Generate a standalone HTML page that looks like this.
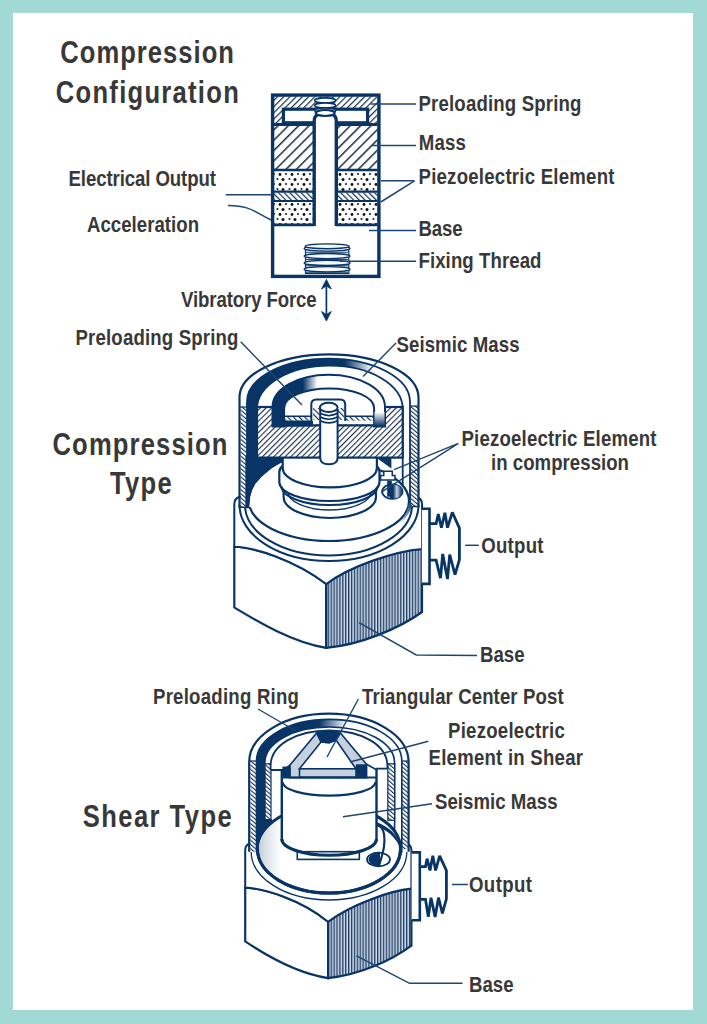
<!DOCTYPE html><html><head><meta charset="utf-8"><style>html,body{margin:0;padding:0;background:#fff}svg{display:block}</style></head><body>
<svg width="707" height="1024" viewBox="0 0 707 1024">
<defs>
<pattern id="h1" width="7.3" height="7.3" patternUnits="userSpaceOnUse" patternTransform="rotate(45)"><rect width="7.3" height="7.3" fill="#fff"/><rect x="0" y="0" width="1.5" height="7.3" fill="#1a2f4a"/></pattern>
<pattern id="h2" width="4.4" height="4.4" patternUnits="userSpaceOnUse" patternTransform="rotate(45)"><rect width="4.4" height="4.4" fill="#fff"/><rect x="0" y="0" width="1.2" height="4.4" fill="#1a2f4a"/></pattern>
<pattern id="h3" width="4" height="4" patternUnits="userSpaceOnUse" patternTransform="rotate(-45)"><rect width="4" height="4" fill="#fff"/><rect x="0" y="0" width="1.2" height="4" fill="#1a2f4a"/></pattern>
<pattern id="h4" width="4" height="4" patternUnits="userSpaceOnUse" patternTransform="rotate(45)"><rect width="4" height="4" fill="#fff"/><rect x="0" y="0" width="1.1" height="4" fill="#1a2f4a"/></pattern>
<pattern id="h5" width="3.2" height="3.2" patternUnits="userSpaceOnUse" patternTransform="rotate(-50)"><rect width="3.2" height="3.2" fill="#fff"/><rect x="0" y="0" width="1.1" height="3.2" fill="#1a2f4a"/></pattern>
<pattern id="dots" width="12" height="10" patternUnits="userSpaceOnUse" x="1" y="172"><rect width="12" height="10" fill="#fff"/><circle cx="3" cy="2.5" r="1.4" fill="#111"/><circle cx="9" cy="2" r="1.1" fill="#222"/><circle cx="6" cy="7.5" r="1.5" fill="#111"/><circle cx="0.5" cy="7" r="1" fill="#222"/><circle cx="12.5" cy="7" r="1" fill="#222"/></pattern>
<pattern id="vl" width="2.9" height="10" patternUnits="userSpaceOnUse"><rect width="2.9" height="10" fill="#d3dde9"/><rect x="0" width="1.35" height="10" fill="#1d3d66"/></pattern>
<linearGradient id="bandL" x1="0" y1="0" x2="1" y2="0"><stop offset="0" stop-color="#083466"/><stop offset="0.6" stop-color="#083466"/><stop offset="0.77" stop-color="#fff"/><stop offset="1" stop-color="#fff"/></linearGradient>
<linearGradient id="sprL" x1="0" y1="0" x2="1" y2="0"><stop offset="0" stop-color="#083466"/><stop offset="0.27" stop-color="#083466"/><stop offset="0.4" stop-color="#fff"/><stop offset="1" stop-color="#fff"/></linearGradient>
<linearGradient id="bandS" x1="0" y1="0" x2="1" y2="0"><stop offset="0" stop-color="#083466"/><stop offset="0.43" stop-color="#083466"/><stop offset="0.62" stop-color="#fff"/><stop offset="1" stop-color="#fff"/></linearGradient>
<pattern id="speck" width="6" height="6" patternUnits="userSpaceOnUse"><rect width="6" height="6" fill="#dfe4ea"/><circle cx="1" cy="1" r="0.7" fill="#8a9ab0"/><circle cx="4" cy="3" r="0.6" fill="#6d7f98"/><circle cx="2" cy="5" r="0.5" fill="#9aa8ba"/></pattern>
<linearGradient id="speckG" x1="0" y1="0" x2="1" y2="0"><stop offset="0" stop-color="#b9c3cf"/><stop offset="0.35" stop-color="#dfe4ea"/><stop offset="0.75" stop-color="#fff"/></linearGradient>
<linearGradient id="legR" x1="0" y1="0" x2="0" y2="1"><stop offset="0" stop-color="#fff"/><stop offset="1" stop-color="#083466"/></linearGradient>
<linearGradient id="holeG" x1="0" y1="0" x2="1" y2="0"><stop offset="0" stop-color="#083466"/><stop offset="0.25" stop-color="#083466"/><stop offset="0.55" stop-color="#c9d4e2"/><stop offset="0.8" stop-color="#4a6a92"/><stop offset="1" stop-color="#083466"/></linearGradient>
<linearGradient id="crR" x1="1" y1="0" x2="0" y2="1"><stop offset="0" stop-color="#083466"/><stop offset="1" stop-color="#fff"/></linearGradient>
</defs>
<rect width="707" height="1024" fill="#a3d9d4"/>
<rect x="13" y="13" width="680" height="997" fill="#fff"/>
<rect x="274" y="96.5" width="103.5" height="27" fill="url(#h2)"/>
<rect x="283.4" y="109.2" width="84.2" height="13.6" fill="#fff" stroke="#083466" stroke-width="3.2"/>
<rect x="274" y="125" width="39" height="44" fill="url(#h1)"/>
<rect x="337.5" y="125" width="40" height="44" fill="url(#h1)"/>
<line x1="274" y1="124.5" x2="377.5" y2="124.5" stroke="#083466" stroke-width="3"/>
<rect x="274" y="171" width="39" height="20" fill="url(#dots)"/>
<rect x="274" y="192.5" width="39" height="8" fill="url(#h3)"/>
<rect x="274" y="201.5" width="39" height="22.5" fill="url(#dots)"/>
<rect x="337.5" y="171" width="40" height="20" fill="url(#dots)"/>
<rect x="337.5" y="192.5" width="40" height="8" fill="url(#h3)"/>
<rect x="337.5" y="201.5" width="40" height="22.5" fill="url(#dots)"/>
<line x1="274" y1="170" x2="314" y2="170" stroke="#083466" stroke-width="2.6"/>
<line x1="336" y1="170" x2="377.5" y2="170" stroke="#083466" stroke-width="2.6"/>
<line x1="274" y1="191.7" x2="314" y2="191.7" stroke="#083466" stroke-width="2.2"/>
<line x1="336" y1="191.7" x2="377.5" y2="191.7" stroke="#083466" stroke-width="2.2"/>
<line x1="274" y1="201" x2="314" y2="201" stroke="#083466" stroke-width="2.2"/>
<line x1="336" y1="201" x2="377.5" y2="201" stroke="#083466" stroke-width="2.2"/>
<line x1="274" y1="224.9" x2="314" y2="224.9" stroke="#083466" stroke-width="2.8"/>
<line x1="336" y1="224.9" x2="377.5" y2="224.9" stroke="#083466" stroke-width="2.8"/>
<rect x="314.2" y="112" width="22.1" height="114" fill="#fff"/>
<path d="M314.2,226 L314.2,121 Q314.2,116 318,114.5 M336.3,226 L336.3,121 Q336.3,116 332.5,114.5" fill="none" stroke="#083466" stroke-width="3.4"/>
<ellipse cx="325.2" cy="100.5" rx="10.5" ry="2.6" fill="#fff" stroke="#083466" stroke-width="1.6"/>
<ellipse cx="325.2" cy="105.5" rx="10.5" ry="2.6" fill="#fff" stroke="#083466" stroke-width="1.6"/>
<ellipse cx="325.2" cy="110.5" rx="10.5" ry="2.6" fill="#fff" stroke="#083466" stroke-width="1.6"/>
<ellipse cx="325.2" cy="113" rx="9.5" ry="3" fill="#fff" stroke="#083466" stroke-width="2.2"/>
<rect x="272.6" y="95.1" width="106.3" height="181.3" fill="none" stroke="#083466" stroke-width="3.4"/>
<path d="M305.5,247 L305.5,273.5 L348.8,273.5 L348.8,247" fill="#f6f9fc" stroke="#083466" stroke-width="1.2"/>
<ellipse cx="327.1" cy="269.3" rx="23" ry="2.6" fill="#f6f9fc" stroke="#083466" stroke-width="1.3"/>
<ellipse cx="327.1" cy="262.9" rx="23" ry="2.6" fill="#f6f9fc" stroke="#083466" stroke-width="1.3"/>
<ellipse cx="327.1" cy="256.1" rx="23" ry="2.6" fill="#f6f9fc" stroke="#083466" stroke-width="1.3"/>
<ellipse cx="327.1" cy="248.5" rx="23" ry="2.6" fill="#f6f9fc" stroke="#083466" stroke-width="1.3"/>
<line x1="306" y1="252.3" x2="348.2" y2="252.3" stroke="#083466" stroke-width="0.9"/>
<line x1="306" y1="259.5" x2="348.2" y2="259.5" stroke="#083466" stroke-width="0.9"/>
<line x1="306" y1="265.9" x2="348.2" y2="265.9" stroke="#083466" stroke-width="0.9"/>
<line x1="306" y1="272.3" x2="348.2" y2="272.3" stroke="#083466" stroke-width="0.9"/>
<ellipse cx="327.1" cy="246.3" rx="21.9" ry="2.4" fill="#f6f9fc" stroke="#083466" stroke-width="1.4"/>
<line x1="370.7" y1="104" x2="416" y2="104" stroke="#1f4670" stroke-width="1.5"/>
<line x1="371.7" y1="145.5" x2="416" y2="145.5" stroke="#1f4670" stroke-width="1.5"/>
<line x1="380.8" y1="180.8" x2="414.5" y2="180.8" stroke="#1f4670" stroke-width="1.5"/>
<line x1="414.5" y1="180.8" x2="380.8" y2="202" stroke="#1f4670" stroke-width="1.5"/>
<line x1="369" y1="230.5" x2="416" y2="230.5" stroke="#1f4670" stroke-width="1.5"/>
<line x1="340" y1="261.2" x2="416" y2="261.2" stroke="#1f4670" stroke-width="1.5"/>
<line x1="225.7" y1="194.8" x2="272" y2="194.8" stroke="#1f4670" stroke-width="1.5"/>
<path d="M228,205.5 C250,205.5 255,212 271,220" fill="none" stroke="#1f4670" stroke-width="1.5"/>
<line x1="326.4" y1="284" x2="326.4" y2="317" stroke="#083466" stroke-width="1.7"/>
<path d="M326.4,279.5 L331.3,289 L326.4,286 L321.5,289 Z M326.4,321 L331.3,311.5 L326.4,314.5 L321.5,311.5 Z" fill="#083466" stroke="#083466" stroke-width="0.8" stroke-linejoin="round"/>
<path d="M234.3,546.7 C255,547.5 295,560 326.2,584 L326.2,647.8 C290,642 252,618 234.3,607.4 Z" fill="#fff" stroke="#083466" stroke-width="2.2"/>
<path d="M326.2,584 C350,566 395,551 422,548.9 L422,612 C400,628 360,645 326.2,647.8 Z" fill="url(#vl)" stroke="#083466" stroke-width="2.2"/>
<path d="M234.3,546.7 L234.3,504 Q234.3,499 239,497 L417,497 Q422,499 422,504 L422,548.9 C395,551 350,566 326.2,584 C295,560 255,547.5 234.3,546.7 Z" fill="#fff" stroke="#083466" stroke-width="2"/>
<path d="M239.5,505 A89.5,56 0 0 0 418.5,505" fill="none" stroke="#083466" stroke-width="2"/>
<path d="M245,505 A83.5,50.5 0 0 0 412,505" fill="none" stroke="#083466" stroke-width="2"/>
<path d="M429.5,523.7 L436.1,523.7 L438.3,514 L441.4,527.7 L444.9,512.7 L447.5,527.7 L452.3,512.3 L459.4,528.1 L459.4,559.8 L455,574.7 L449.7,554.5 L447.5,579.1 L442.7,554 L440.5,578.2 L436.1,560.2 L429.5,560.2" fill="#fff" stroke="#083466" stroke-width="2.8" stroke-linejoin="miter" stroke-miterlimit="2.2"/>
<path d="M421.8,508.8 L429.5,508.8 L429.5,583.9 L421.8,583.9" fill="#fff" stroke="#083466" stroke-width="2.6"/>
<rect x="240.6" y="407" width="5.6" height="100.5" fill="url(#h5)"/>
<rect x="410.3" y="406" width="7.6" height="100.5" fill="url(#h5)"/>
<line x1="240" y1="507.3" x2="247" y2="507.3" stroke="#083466" stroke-width="1.5"/>
<line x1="410" y1="506.5" x2="418.5" y2="506.5" stroke="#083466" stroke-width="1.5"/>
<path d="M247,507.3 L247,401.8 C247,377.94 283.49,358.6 328.5,358.6 C373.51,358.6 410,377.94 410,401.8 L410,507.3 L402.7,507.3 L402.7,409 C402.7,384.5 370,365.7 329.85,365.7 C289.6,365.7 257,384.5 257,409 L257,507.3 Z" fill="url(#bandL)" stroke="#083466" stroke-width="1.8"/>
<path d="M239.5,507.3 L239.5,397.5 C239.5,373.64 279.57,354.3 329.0,354.3 C378.43,354.3 418.5,373.64 418.5,397.5 L418.5,507.3" fill="none" stroke="#083466" stroke-width="2.2"/>
<line x1="239.5" y1="407" x2="247" y2="407" stroke="#083466" stroke-width="1.2"/>
<line x1="410" y1="406" x2="418.5" y2="406" stroke="#083466" stroke-width="1.2"/>
<path d="M374,456 L391.4,456 L391.4,468.5 Z" fill="#083466"/>
<ellipse cx="329" cy="501" rx="80" ry="40" fill="#fff"/>
<path d="M249,501 A80,40 0 0 0 409,501 M377,469 A80,40 0 0 1 409,501" fill="none" stroke="#083466" stroke-width="2.2"/>
<path d="M283.5,461.3 C275,464.5 262,474 254.8,483.6 C252,488 250.5,492 249.6,497 L249,507 L300,507 L300,461 Z" fill="#fff"/>
<path d="M246,456 L284,456 L283.5,461.3 C275,464.5 262,474 254.8,483.6 C252,488 250.5,492 249.6,497 L248.6,507.5 L246,507.5 Z" fill="#083466" stroke="#083466" stroke-width="1.2"/>
<path d="M409,502 C408.5,510 405,517 399,524 C405,520 410,513 412,505 Z" fill="url(#crR)"/>
<path d="M283.6,488 L283.6,497 A46.2,21 0 0 0 376,497 L376,488" fill="#fff" stroke="#083466" stroke-width="2.2"/>
<path d="M288,492 A41.5,18 0 0 0 371,492" fill="none" stroke="#083466" stroke-width="1.4"/>
<path d="M281.5,486 A48,19 0 0 0 377.5,486" fill="none" stroke="#083466" stroke-width="2.2"/>
<path d="M282.7,466 C280,468 279.3,470 279.3,472 L279.3,482 A50.1,19 0 0 0 379.5,482 L379.5,472 C379.5,470 379,468 376.9,466" fill="#fff" stroke="#083466" stroke-width="2.2"/>
<path d="M282.7,456 L282.7,468 A47.1,19.3 0 0 0 376.9,468 L376.9,456 Z" fill="#fff" stroke="#083466" stroke-width="2.2"/>
<ellipse cx="392.3" cy="491.6" rx="10.2" ry="7.2" fill="#fff" stroke="#083466" stroke-width="1.8"/>
<path d="M390,484.5 L392.3,484.4 A10.2,7.2 0 0 1 392.3,498.8 L390,498.8 Z" fill="url(#holeG)"/>
<rect x="387.2" y="480.6" width="4.6" height="16.1" fill="#083466"/>
<path d="M383.8,471.2 L392.3,471.2 L392.3,475.5 L395,475.5 L395,480 L380.6,480 L380.6,475.5 L383.8,475.5 Z" fill="#fff" stroke="#083466" stroke-width="1.5"/>
<rect x="257" y="407" width="145.7" height="50.6" fill="url(#h4)" stroke="#083466" stroke-width="2.2"/>
<rect x="272" y="404" width="114" height="12.3" fill="#fff"/>
<rect x="284.3" y="416.3" width="91" height="4.5" fill="url(#h3)"/>
<rect x="284.3" y="420.8" width="91" height="3.5" fill="#fff"/>
<rect x="273" y="420.5" width="40" height="6" fill="#083466"/>
<line x1="272.5" y1="425.4" x2="385" y2="425.4" stroke="#083466" stroke-width="2.2"/>
<line x1="284.3" y1="416.3" x2="375.3" y2="416.3" stroke="#083466" stroke-width="1.6"/>
<path d="M272.5,426.4 L272.5,407 C272.5,389.2 297.3,374.8 328.7,374.8 C360,374.8 385,389.2 385,407 L385,426.4 L374.1,426.4 L374.1,408 C374.1,397 354,388.4 329.1,388.4 C304,388.4 284.1,397 284.1,408 L284.1,426.4 Z" fill="url(#sprL)" stroke="#083466" stroke-width="2"/>
<path d="M374.5,412 L384.5,412 L384.5,426 L374.5,426 Z" fill="url(#legR)"/>
<path d="M311.3,421 L311.3,404.5 Q311.3,399.4 316.4,399.4 L340.1,399.4 Q345.2,399.4 345.2,404.5 L345.2,421" fill="#fff" stroke="#083466" stroke-width="2"/>
<rect x="313" y="408" width="6.5" height="12" fill="url(#h3)"/>
<rect x="337.5" y="408" width="6.5" height="12" fill="url(#h3)"/>
<path d="M320.2,409 L320.2,458 Q320.2,464.3 328.9,464.3 Q337.6,464.3 337.6,458 L337.6,409" fill="#fff" stroke="#083466" stroke-width="2"/>
<path d="M320.2,413.3 Q328.9,417.8 337.6,413.3" fill="none" stroke="#083466" stroke-width="1.7"/>
<path d="M320.2,417 Q328.9,421.5 337.6,417" fill="none" stroke="#083466" stroke-width="1.7"/>
<path d="M320.2,420.7 Q328.9,425.2 337.6,420.7" fill="none" stroke="#083466" stroke-width="1.7"/>
<ellipse cx="328.7" cy="407.4" rx="8.9" ry="4.7" fill="#fff" stroke="#083466" stroke-width="2"/>
<line x1="240.7" y1="341.8" x2="302" y2="405" stroke="#1f4670" stroke-width="1.4"/>
<line x1="396" y1="343" x2="363" y2="376.5" stroke="#1f4670" stroke-width="1.4"/>
<path d="M458.4,443.4 L394,469.6 M458.4,443.4 L381.3,492.2" fill="none" stroke="#1f4670" stroke-width="1.4"/>
<line x1="465.2" y1="545.3" x2="478.8" y2="545.3" stroke="#1f4670" stroke-width="1.5"/>
<path d="M359,622.7 L416.3,655 L477,655.5" fill="none" stroke="#1f4670" stroke-width="1.5"/>
<path d="M245.2,887.6 C264,888.5 300,899 328.1,921.7 L328.1,978.1 C295,973 261,952 245.2,941.4 Z" fill="#fff" stroke="#083466" stroke-width="2.2"/>
<path d="M328.1,921.7 C350,905 390,890.5 411.4,888.6 L411.4,945.6 C392,960 360,975 328.1,978.1 Z" fill="url(#vl)" stroke="#083466" stroke-width="2.2"/>
<path d="M245.2,887.6 L245.2,850 Q245.2,845 250,843.5 L406.5,843.5 Q411.4,845 411.4,850 L411.4,888.6 C390,890.5 350,905 328.1,921.7 C300,899 264,888.5 245.2,887.6 Z" fill="#fff" stroke="#083466" stroke-width="2"/>
<path d="M251.2,852 A77.80000000000001,48 0 0 0 406.8,852" fill="none" stroke="#083466" stroke-width="1.3"/>
<path d="M419.8,866.6 L425.5,866.6 L427.1,858.7 L430,870.5 L432.8,855.8 L435.6,870.5 L439.6,855.8 L446.4,870.5 L446.4,898.8 L442.4,913.5 L438.5,897.7 L435.1,916.9 L431,897.7 L428.3,916.9 L425.5,899.4 L419.8,899.4" fill="#fff" stroke="#083466" stroke-width="2.8" stroke-linejoin="miter" stroke-miterlimit="2.2"/>
<path d="M411.6,852.4 L419.8,852.4 L419.8,920.3 L411.6,920.3" fill="#fff" stroke="#083466" stroke-width="2.6"/>
<rect x="250.4" y="761" width="6.6" height="90.7" fill="url(#h5)"/>
<rect x="402" y="761" width="7" height="88" fill="url(#h5)"/>
<rect x="264.8" y="763.8" width="6" height="56.2" fill="url(#h5)"/>
<rect x="387.6" y="763.8" width="7" height="56.2" fill="url(#h5)"/>
<path d="M256.5,851.7 L256.5,761 C256.5,738.02 289.03,719.4 329.15,719.4 C369.27,719.4 401.8,738.02 401.8,761 L401.8,851.7 L394.6,851.7 L394.6,763 C394.6,743 366,727 329.7,727 C293,727 264.8,743 264.8,763 L264.8,851.7 Z" fill="url(#bandS)" stroke="#083466" stroke-width="1.6"/>
<rect x="265.3" y="763.8" width="5.6" height="56.2" fill="url(#h5)"/>
<rect x="388" y="763.8" width="6.4" height="56.2" fill="url(#h5)"/>
<rect x="265" y="763.8" width="6" height="56.5" fill="none" stroke="#083466" stroke-width="1.2"/>
<rect x="387.8" y="763.8" width="6.8" height="56.5" fill="none" stroke="#083466" stroke-width="1.2"/>
<path d="M249.2,851.7 L249.2,762 C249.2,735.32 284.88,713.7 328.9,713.7 C372.92,713.7 408.6,735.32 408.6,762 L408.6,851.7" fill="none" stroke="#083466" stroke-width="2.2"/>
<line x1="249.5" y1="761" x2="257" y2="761" stroke="#083466" stroke-width="1.2"/>
<line x1="401.8" y1="761" x2="408.6" y2="761" stroke="#083466" stroke-width="1.2"/>
<path d="M257.2,819 L272,819 L272,851.7 L257.2,851.7 Z" fill="#083466"/>
<ellipse cx="329" cy="849" rx="71.5" ry="44" fill="#fff" stroke="#083466" stroke-width="3"/>
<clipPath id="dclip"><ellipse cx="329" cy="849" rx="70" ry="42.5"/></clipPath>
<rect x="255" y="805" width="35" height="90" fill="url(#speckG)" clip-path="url(#dclip)"/>
<path d="M376.5,822 C392,828 400,838 400.5,849 C398,842 392,832 376.5,826 Z" fill="#083466"/>
<path d="M257.5,849 A71.5,44 0 0 0 400.5,849" fill="none" stroke="#083466" stroke-width="3"/>
<ellipse cx="378.5" cy="859.5" rx="11.5" ry="6.8" fill="#fff" stroke="#083466" stroke-width="1.8"/>
<path d="M380,852.8 A11.5,6.7 0 0 0 380,866.2 Z" fill="#083466"/>
<path d="M379,866 C382,855 386,845 384,834 C383,828 379,825 376,824" fill="none" stroke="#083466" stroke-width="2.2"/>
<path d="M270.6,770 L270.6,766 C270.6,745 296,730.5 329,730.5 C362,730.5 387.4,745 387.4,766 L387.4,768.6" fill="#fff" stroke="#083466" stroke-width="1.8"/>
<path d="M270.6,770 L282,770 M376,768.6 L387.4,768.6" stroke="#083466" stroke-width="1.8"/>
<path d="M281.8,769 L281.8,839 A47.35,16.3 0 0 0 376.5,839 L376.5,768.6" fill="#fff" stroke="#083466" stroke-width="2.4"/>
<path d="M282.5,782 A46.5,13.6 0 0 0 375.5,782" fill="none" stroke="#083466" stroke-width="2.2"/>
<rect x="297.3" y="851.7" width="62" height="7.7" fill="#fff" stroke="#083466" stroke-width="1.6"/>
<path d="M281.8,839 A47.35,16.3 0 0 0 376.5,839" fill="none" stroke="#083466" stroke-width="3"/>
<path d="M289.9,765.1 L316.6,733 C324,731.6 333,731.6 340.4,733 L366.6,764.3 L366.6,777.6 L289.9,777.6 Z" fill="#c6d0de" stroke="#083466" stroke-width="1.6"/>
<path d="M289.9,765.1 L281.5,771" stroke="#083466" stroke-width="1.5"/>
<path d="M299.5,768.8 L321,742 L329.2,742.8 L336,740 L356,768.8 Z" fill="#fff" stroke="#083466" stroke-width="1.6"/>
<path d="M316.6,733 C324,731.6 333,731.6 340.4,733 L336,740 L329.2,742.8 L321,742 Z" fill="#083466" stroke="#083466" stroke-width="1.6"/>
<rect x="299.5" y="768.8" width="56.5" height="8.4" fill="#c6d0de" stroke="#083466" stroke-width="1.6"/>
<line x1="289.9" y1="766" x2="289.9" y2="777.6" stroke="#083466" stroke-width="1.4"/>
<rect x="282.4" y="766.6" width="7.5" height="11" fill="#083466"/>
<rect x="356" y="764.3" width="10.6" height="13.4" fill="#083466"/>
<path d="M366.6,764.3 L376,769.5" stroke="#083466" stroke-width="1.6"/>
<line x1="282" y1="777.6" x2="376" y2="777.6" stroke="#083466" stroke-width="2"/>
<line x1="258" y1="709" x2="296" y2="731" stroke="#1f4670" stroke-width="1.4"/>
<line x1="358.4" y1="699" x2="327" y2="757" stroke="#1f4670" stroke-width="1.4"/>
<line x1="428.3" y1="741.2" x2="350" y2="762" stroke="#1f4670" stroke-width="1.4"/>
<line x1="432" y1="803.7" x2="343" y2="816.7" stroke="#1f4670" stroke-width="1.4"/>
<line x1="452" y1="884.5" x2="468" y2="884.5" stroke="#1f4670" stroke-width="1.5"/>
<path d="M356.5,955.8 L409.6,983.3 L462.6,983.3" fill="none" stroke="#1f4670" stroke-width="1.5"/>
<g style='font-family:"Liberation Sans", sans-serif' font-weight="bold" fill="#383838">
<text transform="translate(60.3,62.5) scale(0.8,1)" x="0" y="0" font-size="32" textLength="217.12" lengthAdjust="spacing">Compression</text>
<text transform="translate(55.8,103) scale(0.8,1)" x="0" y="0" font-size="32" textLength="228.75" lengthAdjust="spacing">Configuration</text>
<text transform="translate(418.5,111.3) scale(0.87,1)" x="0" y="0" font-size="21.4" textLength="187.36" lengthAdjust="spacing">Preloading Spring</text>
<text transform="translate(418.7,150.2) scale(0.87,1)" x="0" y="0" font-size="21.4" textLength="54.14" lengthAdjust="spacing">Mass</text>
<text transform="translate(418.5,184) scale(0.87,1)" x="0" y="0" font-size="21.4" textLength="225.29" lengthAdjust="spacing">Piezoelectric Element</text>
<text transform="translate(418.5,236.3) scale(0.87,1)" x="0" y="0" font-size="21.4" textLength="50.57" lengthAdjust="spacing">Base</text>
<text transform="translate(418.5,267.6) scale(0.87,1)" x="0" y="0" font-size="21.4" textLength="141.38" lengthAdjust="spacing">Fixing Thread</text>
<text transform="translate(68.5,186) scale(0.87,1)" x="0" y="0" font-size="21.4" textLength="169.54" lengthAdjust="spacing">Electrical Output</text>
<text transform="translate(87,232.2) scale(0.87,1)" x="0" y="0" font-size="21.4" textLength="128.74" lengthAdjust="spacing">Acceleration</text>
<text transform="translate(181,306.7) scale(0.87,1)" x="0" y="0" font-size="21.4" textLength="155.98" lengthAdjust="spacing">Vibratory Force</text>
<text transform="translate(75.5,344.9) scale(0.87,1)" x="0" y="0" font-size="21.4" textLength="187.36" lengthAdjust="spacing">Preloading Spring</text>
<text transform="translate(396.5,351.8) scale(0.87,1)" x="0" y="0" font-size="21.4" textLength="141.38" lengthAdjust="spacing">Seismic Mass</text>
<text transform="translate(461.5,446) scale(0.87,1)" x="0" y="0" font-size="21.4" textLength="224.14" lengthAdjust="spacing">Piezoelectric Element</text>
<text transform="translate(491,470) scale(0.87,1)" x="0" y="0" font-size="21.4" textLength="158.62" lengthAdjust="spacing">in compression</text>
<text transform="translate(481.3,552.5) scale(0.87,1)" x="0" y="0" font-size="21.4" textLength="71.49" lengthAdjust="spacing">Output</text>
<text transform="translate(480,661.8) scale(0.87,1)" x="0" y="0" font-size="21.4" textLength="51.15" lengthAdjust="spacing">Base</text>
<text transform="translate(52.5,455.4) scale(0.8,1)" x="0" y="0" font-size="32" textLength="218.75" lengthAdjust="spacing">Compression</text>
<text transform="translate(110,494.3) scale(0.8,1)" x="0" y="0" font-size="32" textLength="77.12" lengthAdjust="spacing">Type</text>
<text transform="translate(153,703.9) scale(0.87,1)" x="0" y="0" font-size="21.4" textLength="167.82" lengthAdjust="spacing">Preloading Ring</text>
<text transform="translate(362,703.7) scale(0.87,1)" x="0" y="0" font-size="21.4" textLength="231.72" lengthAdjust="spacing">Triangular Center Post</text>
<text transform="translate(448,738.3) scale(0.87,1)" x="0" y="0" font-size="21.4" textLength="134.25" lengthAdjust="spacing">Piezoelectric</text>
<text transform="translate(428.5,765) scale(0.87,1)" x="0" y="0" font-size="21.4" textLength="177.59" lengthAdjust="spacing">Element in Shear</text>
<text transform="translate(435,809.2) scale(0.87,1)" x="0" y="0" font-size="21.4" textLength="140.80" lengthAdjust="spacing">Seismic Mass</text>
<text transform="translate(82.7,826.7) scale(0.8,1)" x="0" y="0" font-size="32" textLength="186.25" lengthAdjust="spacing">Shear Type</text>
<text transform="translate(469,892) scale(0.87,1)" x="0" y="0" font-size="21.4" textLength="72.41" lengthAdjust="spacing">Output</text>
<text transform="translate(469,991.8) scale(0.87,1)" x="0" y="0" font-size="21.4" textLength="51.15" lengthAdjust="spacing">Base</text>
</g>
</svg></body></html>
